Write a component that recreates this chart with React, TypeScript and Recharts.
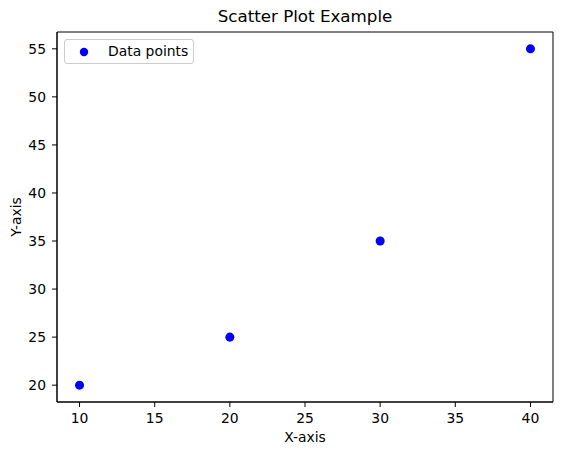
import React from 'react';
import { ScatterChart, Scatter, XAxis, YAxis, ZAxis, Legend, Label, ReferenceArea } from 'recharts';

const xValues = [10, 20, 30, 40];
const yValues = [20, 25, 35, 55];
const xTicks = [10, 15, 20, 25, 30, 35, 40];
const yTicks = [20, 25, 30, 35, 40, 45, 50, 55];
const xDomain = [8.5, 41.5];
const yDomain = [18.25, 56.75];

const FONT = '"DejaVu Sans", sans-serif';

const data = xValues.map((x, i) => ({ x, y: yValues[i] }));

function LegendBox() {
  return (
    <div
      style={{
        width: 128,
        height: 23,
        border: '1px solid #cccccc',
        borderRadius: 3,
        background: 'rgba(255,255,255,0.8)',
        position: 'relative',
        fontFamily: FONT,
        fontSize: 13.9,
        color: '#000',
      }}
    >
      <svg width={12} height={12} style={{ position: 'absolute', left: 13, top: 6 }}>
        <circle cx={6} cy={6} r={4.2} fill="#0000ff" />
      </svg>
      <span style={{ position: 'absolute', left: 43, top: 3, lineHeight: '16px' }}>Data points</span>
    </div>
  );
}

export default function App() {
  const tick = { fontSize: 13.9, fontFamily: FONT, fill: '#000' };
  return (
    <div style={{ position: 'absolute', left: 0, top: 0, width: 562, height: 455, background: '#fff' }}>
      <div
        style={{
          position: 'absolute',
          left: 57,
          width: 496,
          top: 5,
          textAlign: 'center',
          fontFamily: FONT,
          fontSize: 16.7,
          color: '#000',
          lineHeight: '22px',
        }}
      >
        Scatter Plot Example
      </div>
      <ScatterChart width={562} height={455} margin={{ top: 32, right: 9, bottom: 0, left: 0 }}>
        <XAxis
          type="number"
          dataKey="x"
          domain={xDomain}
          ticks={xTicks}
          allowDataOverflow
          height={53}
          tick={tick}
          tickSize={5}
          tickMargin={6}
          stroke="#000"
          interval={0}
        >
          <Label
            value="X-axis"
            position="insideBottom"
            offset={13}
            style={{ fontSize: 13.9, fontFamily: FONT, fill: '#000' }}
          />
        </XAxis>
        <YAxis
          type="number"
          dataKey="y"
          domain={yDomain}
          ticks={yTicks}
          allowDataOverflow
          width={57}
          tick={tick}
          tickSize={5}
          tickMargin={6}
          stroke="#000"
          interval={0}
        >
          <Label
            value="Y-axis"
            angle={-90}
            position="insideLeft"
            offset={16}
            style={{ fontSize: 13.9, fontFamily: FONT, fill: '#000', textAnchor: 'middle' }}
          />
        </YAxis>
        <ZAxis range={[55, 55]} />
        {/* full frame, like matplotlib's four spines */}
        <ReferenceArea
          x1={xDomain[0]}
          x2={xDomain[1]}
          y1={yDomain[0]}
          y2={yDomain[1]}
          fill="none"
          fillOpacity={0}
          stroke="#000"
          strokeWidth={1}
        />
        <Legend
          layout="horizontal"
          verticalAlign="middle"
          content={() => <LegendBox />}
          wrapperStyle={{ left: 64, top: 39, width: 'auto' }}
        />
        <Scatter name="Data points" data={data} fill="#0000ff" isAnimationActive={false} />
      </ScatterChart>
    </div>
  );
}
